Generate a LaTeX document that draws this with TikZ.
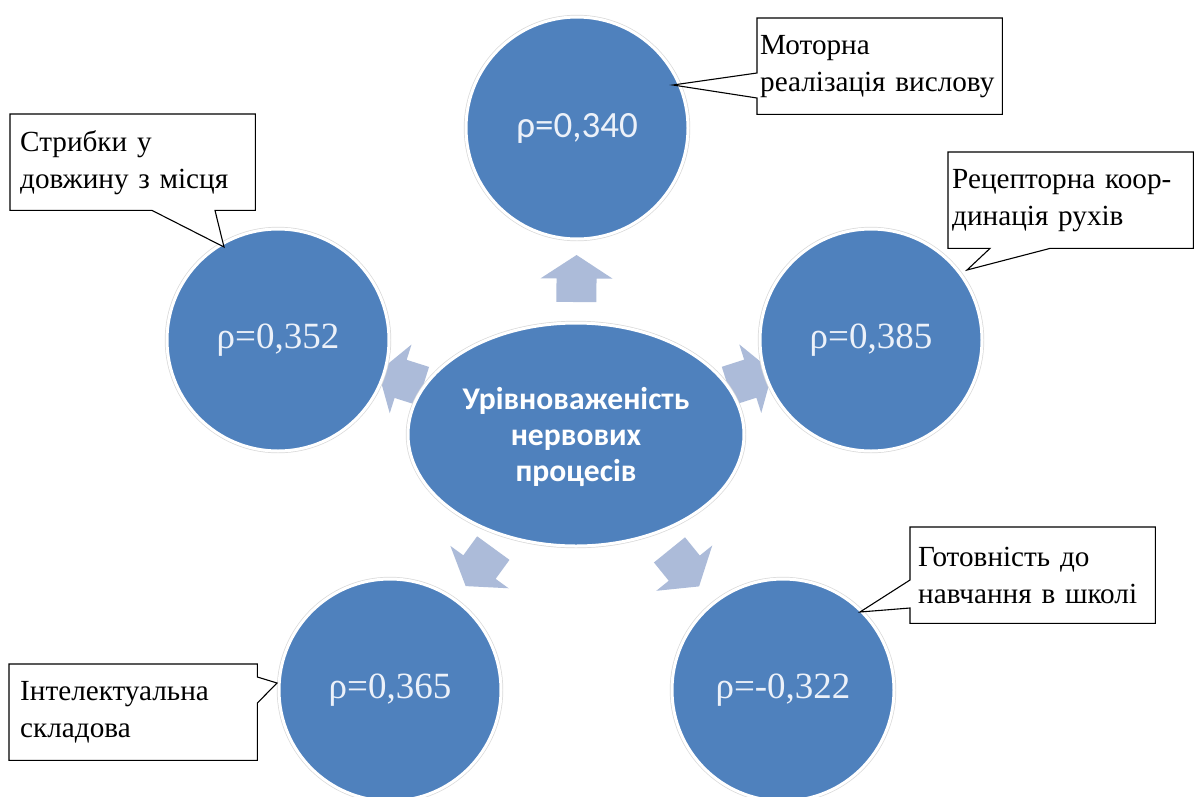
\documentclass[tikz,border=0pt]{standalone}
\usepackage{fontspec}
\setmainfont{Liberation Serif}
\newfontfamily\calib{Carlito}
\usetikzlibrary{calc,shapes.geometric}
\definecolor{discblue}{RGB}{79,129,189}
\definecolor{arrowblue}{RGB}{172,187,217}
\definecolor{valtext}{RGB}{236,241,249}
\pgfdeclarelayer{arrows}
\pgfdeclarelayer{discs}
\pgfdeclarelayer{boxes}
\pgfsetlayers{arrows,discs,boxes,main}

% block arrow from node #1 towards node #2, centred at distance #3 from #1
\newcommand\flowarrow[3]{%
  \pgfmathsetmacro\arrtail{#3-23.5}%
  \pgfmathsetmacro\arrneck{#3}%
  \pgfmathsetmacro\arrtip{#3+23.5}%
  \fill[blockarrow]
    ($(#1)!\arrtail pt!(#2)!20pt!90:(#2)$) --
    ($(#1)!\arrneck pt!(#2)!20pt!90:(#2)$) --
    ($(#1)!\arrneck pt!(#2)!36pt!90:(#2)$) --
    ($(#1)!\arrtip pt!(#2)$) --
    ($(#1)!\arrneck pt!(#2)!36pt!-90:(#2)$) --
    ($(#1)!\arrneck pt!(#2)!20pt!-90:(#2)$) --
    ($(#1)!\arrtail pt!(#2)!20pt!-90:(#2)$) -- cycle;}

\begin{document}
\begin{tikzpicture}[x=1pt,y=-1pt,
  disc/.style={circle, fill=discblue, draw=white, line width=3pt,
    preaction={draw=black!15, line width=4.4pt},
    minimum size=222pt, inner sep=0pt, text=valtext,
    font=\fontsize{37}{40}\selectfont},
  hub/.style={ellipse, fill=discblue, draw=white, line width=3pt,
    preaction={draw=black!15, line width=4.4pt},
    minimum width=336pt, minimum height=223pt, inner sep=0pt,
    text=white, align=center,
    font=\calib\bfseries\fontsize{31.6}{36}\selectfont},
  note/.style={anchor=north west, inner ysep=0pt, minimum height=96pt,
    align=left, font=\fontsize{29.2}{37}\selectfont},
  noteline/.style={draw=black, fill=white, line width=1.1pt, line join=miter},
  blockarrow/.style={fill=arrowblue}]

\useasboundingbox (0,0) rectangle (1200,796);

% discs and the central ellipse
\begin{pgfonlayer}{discs}
  \node[disc] (dtop)   at (577,128) {{\calib ρ=0,340}};
  \node[disc] (dleft)  at (278,340) {ρ=0,352};
  \node[disc] (dright) at (871,340) {ρ=0,385};
  \node[disc] (dbotl)  at (390,690) {ρ=0,365};
  \node[disc] (dbotr)  at (783,690) {ρ=-0,322};
  \node[hub]  (hub)    at (576,434.5) {\rule{0pt}{28pt}Урівноваженість\\нервових\\процесів};
\end{pgfonlayer}

% arrows from the ellipse out to each disc
\begin{pgfonlayer}{arrows}
  \fill[white] (0,0) rectangle (1200,796);
  \flowarrow{hub}{dtop}{156}
  \flowarrow{hub}{dleft}{184}
  \flowarrow{hub}{dright}{183}
  \flowarrow{hub}{dbotl}{164}
  \flowarrow{hub}{dbotr}{172}
\end{pgfonlayer}

% callout texts
\node[note, inner xsep=3pt,  text width=239pt] (n1) at (757,18)  {Моторна\\реалізація вислову};
\node[note, inner xsep=10pt, text width=225pt] (n2) at (10,114)  {Стрибки у\\довжину з місця};
\node[note, inner xsep=4pt,  text width=237pt] (n3) at (948,152) {Рецепторна коор-\\динація рухів};
\node[note, inner xsep=8pt,  text width=229pt] (n4) at (910,527) {Готовність до\\навчання в школі};
\node[note, inner xsep=11pt, text width=226pt] (n5) at (9,664)   {Інтелектуальна\\складова};

% callout pointer tips
\coordinate (t1) at (673,85);
\coordinate (t2) at (224,247);
\coordinate (t3) at (967,270);
\coordinate (t4) at (860,612);
\coordinate (t5) at (277,683);

% callout outlines
\begin{pgfonlayer}{boxes}
  \draw[noteline] (n1.north west) -- (n1.north east) -- (n1.south east)
    -- (n1.south west) -- ($(n1.north west)+(0,80)$) -- (t1)
    -- ($(n1.north west)+(0,55)$) -- cycle;
  \draw[noteline] (n2.north west) -- (n2.north east) -- (n2.south east)
    -- ($(n2.south west)+(205,0)$) -- (t2) -- ($(n2.south west)+(142,0)$)
    -- (n2.south west) -- cycle;
  \draw[noteline] (n3.north west) -- (n3.north east) -- (n3.south east)
    -- ($(n3.south west)+(102,0)$) -- (t3) -- ($(n3.south west)+(42,0)$)
    -- (n3.south west) -- cycle;
  \draw[noteline] (n4.north west) -- (n4.north east) -- (n4.south east)
    -- (n4.south west) -- ($(n4.north west)+(0,81)$) -- (t4)
    -- ($(n4.north west)+(0,53)$) -- cycle;
  \draw[noteline] (n5.north west) -- (n5.north east)
    -- ($(n5.north east)+(0,13)$) -- (t5) -- ($(n5.north east)+(0,39)$)
    -- (n5.south east) -- (n5.south west) -- cycle;
\end{pgfonlayer}
\end{tikzpicture}
\end{document}
